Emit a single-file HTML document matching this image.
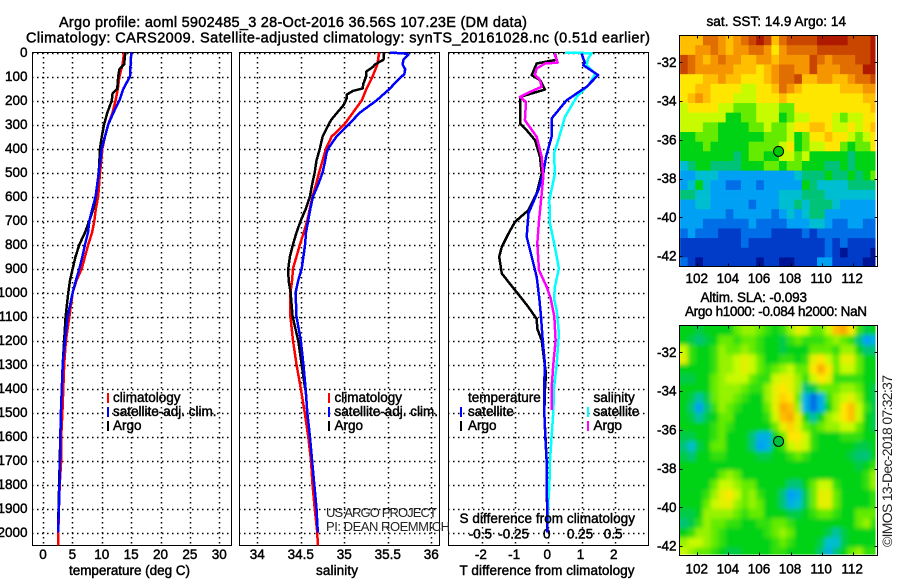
<!DOCTYPE html>
<html lang="en">
<head>
<meta charset="utf-8">
<title>Argo profile 5902485_3</title>
<style>
  html, body { margin: 0; padding: 0; background: #fff; }
  #chart { display: block; width: 900px; height: 580px; }
  text { font-family: "Liberation Sans", sans-serif; font-size: 13.5px; fill: #000; stroke: #000; stroke-width: 0.45px; }
  .title { font-size: 14.5px; }
  .thin { stroke: none; font-size: 13px; fill: #222; }
  .thin-large { stroke: none; font-size: 14px; fill: #222; }
</style>
</head>
<body>
<svg id="chart" xmlns="http://www.w3.org/2000/svg" width="900" height="580" viewBox="0 0 900 580">
  <defs>
    <clipPath id="sst-clip"><rect x="679.5" y="35.5" width="196" height="231"/></clipPath>
    <clipPath id="sla-clip"><rect x="679.5" y="325.5" width="196" height="229"/></clipPath>
    <filter id="smooth" x="0" y="0" width="100%" height="100%"><feGaussianBlur stdDeviation="2.2"/></filter>
  </defs>
  <rect width="900" height="580" fill="#fff"/>
  <text class="title" x="59" y="27" textLength="468" lengthAdjust="spacing">Argo profile: aoml 5902485_3 28-Oct-2016 36.56S 107.23E (DM data)</text>
  <text class="title" x="26" y="42.5" textLength="624" lengthAdjust="spacing">Climatology: CARS2009. Satellite-adjusted climatology: synTS_20161028.nc (0.51d earlier)</text>
  <g id="layer-panels"></g>
  <g id="layer-maps"></g>
  <text x="69" y="575" textLength="121" lengthAdjust="spacing">temperature (deg C)</text>
  <text x="316" y="575" textLength="42" lengthAdjust="spacing">salinity</text>
  <text x="459.5" y="575" textLength="175" lengthAdjust="spacing">T difference from climatology</text>
  <text x="459.5" y="523" textLength="175.5" lengthAdjust="spacing">S difference from climatology</text>
  <text class="thin" x="326" y="517" textLength="111" lengthAdjust="spacing">US ARGO PROJECT</text>
  <text class="thin" x="326" y="531" textLength="124" lengthAdjust="spacing">PI: DEAN ROEMMICH</text>
  <text x="706.5" y="26" textLength="139.5" lengthAdjust="spacing">sat. SST: 14.9 Argo: 14</text>
  <text x="700.5" y="302" textLength="106.5" lengthAdjust="spacing">Altim. SLA: -0.093</text>
  <text x="685" y="316" textLength="182" lengthAdjust="spacing">Argo h1000: -0.084 h2000: NaN</text>
  <text class="thin-large" transform="translate(892,547) rotate(-90)" textLength="172" lengthAdjust="spacing">©IMOS 13-Dec-2018 07:32:37</text>
</svg>

<script>
/* ---------- tick labels ---------- */
const depthTicks = [0,100,200,300,400,500,600,700,800,900,1000,1100,1200,1300,1400,1500,1600,1700,1800,1900,2000];
const tempTicks = [0,5,10,15,20,25,30];
const salTicks = [34,34.5,35,35.5,36];
const tDiffTicks = [-2,-1,0,1,2];
const sDiffTicks = [-0.5,-0.25,0,0.25,0.5];
const lonTicks = [102,104,106,108,110,112];
const latTicks = [-32,-34,-36,-38,-40,-42];
const floatLon = 107.23;
const floatLat = -36.56;

/* ---------- temperature profiles ---------- */
const tempClimDepth = [0,50,100,150,200,250,300,350,400,500,600,650,700,750,800,850,900,950,1000,1100,1200,1300,1400,1500,1600,1700,1800,1900,2000,2054];
const tempClim = [13.8,13.55,13,12.75,12.35,11.85,11.1,10.55,10.1,9.7,9.4,9,8.75,8.35,7.7,7.15,6.6,5.7,5.05,4.5,3.9,3.6,3.45,3.3,3.1,3.1,2.85,2.7,2.6,2.55];
const tempArgoDepth = [0,50,70,100,150,170,200,250,300,350,400,500,600,650,700,750,800,850,900,950,1000,1100,1200,1300,1500,2000];
const tempArgo = [14,13.8,13,12.8,12.65,11.85,11.7,10.95,10.4,10,9.7,9.5,9,8.6,7.9,7.15,6.2,5.55,5.05,4.6,4.3,3.85,3.6,3.35,3.05,2.55];
const tempSatDepth = [0,50,70,100,150,200,250,300,350,400,500,600,650,700,750,800,850,900,950,1000,1100,1200,1300,1400,1500,1600,1700,1800,1900,2000];
const tempSat = [15,14.9,14.85,14.8,13.7,13,12,11.1,10.55,10,9.5,8.95,8.4,7.9,7.65,7.15,6.7,6.2,5.6,5.05,4.2,3.75,3.35,3.2,3.05,2.95,2.9,2.8,2.7,2.55];

/* ---------- salinity profiles ---------- */
const salClimDepth = [0,50,100,150,200,250,300,350,400,450,500,550,600,650,700,750,800,850,900,950,1000,1100,1200,1300,1400,1500,1600,1700,1800,1900,2000,2054];
const salClim = [35.4,35.38,35.325,35.256,35.2,35.1,35,34.855,34.79,34.75,34.71,34.675,34.635,34.605,34.575,34.535,34.49,34.45,34.41,34.4,34.38,34.38,34.41,34.45,34.5,34.545,34.585,34.617,34.635,34.66,34.69,34.695];
const salArgoDepth = [0,30,50,60,80,100,130,150,160,175,190,220,250,280,300,350,400,450,500,550,600,650,700,750,800,850,900,950,1000,1100,1200,1300,1400];
const salArgo = [35.456,35.45,35.35,35.33,35.25,35.25,35.22,35.21,35.1,35.03,35.03,34.99,34.92,34.85,34.82,34.75,34.72,34.68,34.66,34.63,34.605,34.56,34.5,34.45,34.41,34.375,34.356,34.36,34.383,34.406,34.47,34.51,34.55];
const salSatDepth = [0,5,10,30,50,70,90,120,150,200,250,300,350,400,420,450,500,550,600,650,700,750,800,850,900,950,1000,1100,1200,1300,1400,1500,1600,1700,1800,1900,2000];
const salSat = [35.525,35.72,35.735,35.68,35.67,35.7,35.69,35.6,35.525,35.37,35.18,35.05,34.91,34.815,34.795,34.78,34.75,34.7,34.64,34.61,34.585,34.56,34.55,34.53,34.51,34.47,34.44,34.45,34.5,34.53,34.555,34.575,34.605,34.63,34.655,34.68,34.695];

/* ---------- difference profiles ---------- */
const dTArgoDepth = [4,30,46,94,115,154,185,240,296,324,365,435,504,588,657,705,754,810,851,921,963,1025,1061,1110,1151,1200,1276,1339,1400,1500,1700,2000];
const dTArgo = [0.2,0.25,-0.35,-0.5,-0.25,-0.1,-0.85,-0.85,-0.85,-0.65,-0.4,-0.25,-0.2,-0.35,-0.6,-1,-1.2,-1.4,-1.48,-1.4,-1.16,-0.8,-0.6,-0.35,-0.33,-0.2,-0.13,-0.07,-0.1,-0.12,-0.05,-0.03];
const dTSatDepth = [4,42,53,94,143,199,275,351,435,504,574,671,768,851,935,1025,1100,1200,1300,1400,1500,1600,1700,1800,1900,2000];
const dTSat = [1,1.1,1.05,1.5,1.15,0.55,0.1,0.1,-0.07,-0.15,-0.3,-0.6,-0.65,-0.5,-0.35,-0.27,-0.22,-0.17,-0.1,-0.13,-0.12,-0.09,-0.05,-0.05,-0.03,-0.03];
const dSArgoDepth = [4,42,46,67,94,115,143,164,185,206,282,351,435,518,588,700,796,907,976,1025,1100,1200,1300,1400,1490];
const dSArgo = [0.045,0.07,-0.025,-0.088,-0.1,-0.063,-0.05,-0.138,-0.214,-0.168,-0.176,-0.088,-0.05,-0.038,-0.05,-0.07,-0.083,-0.07,-0.013,0.018,0.045,0.055,0.038,0.025,0.025];
const dSSatDepth = [0,3,25,53,88,129,185,268,365,421,504,615,713,810,900,976,1025,1075,1170,1300,1400,1500,1600,1700,1800,1900,2000];
const dSSat = [0.126,0.327,0.3,0.289,0.352,0.314,0.214,0.126,0.075,0.043,0.05,0.008,0.013,0.05,0.08,0.05,0.043,0.063,0.08,0.063,0.043,0.038,0.025,0.013,0.008,-0.003,-0.008];

/* ---------- map grids (colour-scale levels, 0 = coldest/lowest) ---------- */
const sstLevels = [
[10,10,10,12,12,11,10,11,12,13,14,13,10,12,13,13,13,13,14,14,14,14,13,13,13,14],
[10,10,11,11,12,11,10,11,11,12,12,11,9,11,12,12,12,12,13,13,13,13,13,13,13,14],
[13,12,11,10,11,12,11,11,10,10,11,11,10,11,11,11,11,13,12,11,12,12,12,13,13,14],
[13,12,11,11,11,11,11,10,10,10,9,10,11,12,12,11,11,13,11,11,11,12,12,12,14,14],
[9,9,9,10,10,11,10,10,9,9,9,10,11,12,12,13,10,10,11,11,10,10,11,12,12,13],
[9,9,10,10,9,9,9,9,8,8,9,9,10,12,11,10,9,9,9,9,9,10,10,10,11,11],
[9,10,11,10,9,9,9,8,8,8,9,9,9,10,9,9,9,9,9,9,9,9,9,9,10,10],
[8,9,9,9,9,8,8,7,7,7,8,8,8,7,7,9,9,9,9,9,9,9,9,9,9,10],
[8,8,8,8,8,8,6,6,7,7,8,8,8,6,7,8,8,9,9,9,8,7,8,8,9,9],
[8,8,8,7,7,6,6,6,6,7,7,8,7,7,8,9,9,10,10,9,8,8,9,8,9,10],
[6,6,7,7,7,6,6,6,6,6,6,7,7,7,8,6,7,9,9,10,9,9,8,7,8,9],
[6,6,6,7,6,6,6,6,6,7,7,7,7,8,9,6,7,8,8,9,9,7,6,7,7,9],
[6,6,6,6,6,6,6,5,6,7,7,6,6,8,8,7,8,6,6,6,6,6,5,6,6,6],
[4,5,6,6,5,5,5,5,6,6,6,7,7,6,7,7,6,6,6,5,5,6,5,6,6,6],
[3,3,4,4,4,3,3,3,3,3,3,3,3,3,3,4,5,5,5,6,5,5,6,5,6,7],
[3,4,6,4,3,3,2,2,3,3,2,3,3,3,3,3,6,5,4,4,4,4,5,5,5,5],
[5,5,4,4,3,3,3,3,3,3,3,3,3,4,4,4,5,5,5,4,4,4,4,4,4,4],
[3,3,4,4,3,3,3,3,3,2,3,3,3,4,4,5,4,5,5,5,4,3,3,3,3,3],
[3,3,3,3,3,3,2,3,3,3,3,3,2,3,4,3,4,5,5,3,3,3,3,3,3,3],
[3,3,3,2,2,2,2,2,2,3,2,2,2,2,3,3,3,4,4,3,2,2,3,3,2,2],
[2,3,2,2,2,1,1,1,2,2,2,2,1,1,1,1,2,1,2,2,2,2,2,2,2,2],
[1,1,1,1,1,1,1,1,2,1,1,1,1,1,1,1,1,1,1,2,1,2,1,1,1,1],
[1,1,1,1,1,1,1,1,1,1,1,1,1,1,1,1,1,1,1,2,1,0,1,1,1,0],
[2,1,0,1,1,1,1,1,1,1,0,1,1,0,0,1,1,1,3,3,1,1,1,1,0,0]
];
const slaLevels = [
[6,6,5.5,6,6,6,6,7,7.5,7.5,7,6.5,6,6.5,7.5,8.5,8,7,7,8,10,10.5,9,6.5,5.5,6],
[6,5.5,5,5.5,6,7,7,6.5,7,7,6.5,6,6,5.5,6.5,7,6.5,6.5,6.5,7,7.5,7,6.5,5,3,3.5],
[8,6.5,6,6,6.5,7.5,7,7,7.5,7,6.5,6,6,5.5,6,6,6,7,7,7,6.5,7.5,7.5,6,5,5],
[8.5,6.5,6,6,6.5,7.5,7.5,8,8.5,8,7,6,6,6.5,6.5,6,6.5,8.5,9,8,7,8.5,8.5,7,6,6],
[6,6,6,6,6.5,7.5,7.5,8,8.5,8,7,6.5,7,7.5,8,7,7,9,10.5,9,7,8,8,7,6,6],
[5.5,5.5,6,6,7,7.5,8,8,8,7,6.5,6.5,8,8.5,8.5,7.5,6.5,8,9,8.5,6.5,6.5,6.5,6.5,6,6],
[6,6,6,6,7,7.5,7.5,7.5,7,6.5,6.5,7.5,8.5,9,8.5,7.5,5,5.5,7,7,7,7.5,7.5,7,6,5.5],
[6,5.5,4.5,5.5,7,7.5,7.5,7,6.5,6,6,7.5,8.5,9.5,9,7,3.5,2,3.5,6.5,7.5,8,8.5,7.5,6,5.5],
[6,5,3,5,6.5,7.5,7,6.5,6,6,6,7,8.5,10.5,10,7.5,3.5,2,3.5,6,7.5,9,10,8,6.5,5.5],
[6,5.5,4.5,5.5,6,7,7,6,6,6,6,6.5,8,10,10.5,8.5,6,4.5,6,7.5,8,9,10,8,6,5.5],
[6,6,6,6,6.5,7,6.5,6,6,6,6,6,7,8.5,9.5,8.5,7,6.5,7,7.5,7.5,8,8,7,6,5.5],
[5.5,5.5,6,6,6.5,7,6,6,6,5,3.5,3.5,6,7,9,9,8,6.5,6,6,6,6.5,6.5,6.5,6,6],
[5,4,5.5,6,7,7,6,6,6,5,3,3.5,6,6.5,8,8.5,8,6.5,6,6,6,6,6,5.5,5.5,6],
[5.5,5,6,6,6.5,6.5,6,6,6,6,5.5,5.5,6,6,6.5,7,6.5,6,6,6,6,6,5.5,5,5,6],
[6,6,6,6,6,6,6,6,6,6,6,6,6,6,6,6,6,6,6,6,6,6,6,5.5,6,6.5],
[6,6,6,6,6,7,7.5,7,6,6,6,6,6,6,6,6,6,6,6,6,6,6,6,6,6.5,7.5],
[6,6,6,6,7,8,8,7.5,7,7,6,6,6,6,5,5,6,7,8,8,6.5,6,6,6,6.5,7.5],
[6,6,6,6.5,7.5,8.5,9,8,7,7.5,6.5,6,6,5,3,3.5,5.5,7,8.5,8.5,7,6,6,6,6,6.5],
[6,6,6,7,8,8.5,8.5,7.5,7,7.5,7,6,6,5,3.5,4,5.5,7,8.5,8.5,7,6,6,6,6,6.5],
[5.5,5.5,6,7.5,7.5,7.5,7.5,7,6.5,7,7,6,6,6,5.5,5.5,6,6.5,7,7,6.5,6,6,7,7,7],
[5,5.5,6.5,7.5,7,7,6.5,6.5,6,6,6.5,6.5,7,7,6.5,6,6,6,6,6,6,6,6,7,7.5,6.5],
[6,6.5,7.5,7.5,7,6.5,6,6,6,6,6,6.5,7,7.5,7,6,6,6,6,5.5,4.5,5.5,6,6,6,6],
[7.5,8,8,7.5,7,6.5,6,6,6,6,6,6,6.5,7,6.5,6,6,6,5.5,4,4,5.5,6,6,6,6],
[8,7.5,7,7,6.5,6,5.5,5.5,6,6,6,6,6.5,6.5,6,6,6,6,5,3.5,5,6,7,7.5,6.5,6.5]
];

/* ---------- colour scale and layout ---------- */
const colorRamp = [[0,20,150],[0,60,200],[0,110,230],[0,160,245],[0,190,210],[0,195,120],[0,210,20],[100,235,0],[200,250,0],[255,230,0],[255,190,0],[245,150,0],[225,110,0],[200,70,0],[175,25,0]];
const mapLonStart = 100.89, mapLonStep = 0.49, mapLatStart = -30.62, mapLatStep = 0.498;

const yDepth = d => 52.5 + 0.24 * d;
const xTemp = v => 43 + 5.877 * v;
const xSal = v => 257.3 + 87 * (v - 34);
const xTDiff = v => 548.3 + 33.2 * v;
const xSDiff = v => xTDiff(4 * v);
const xLon = v => 697.3 + 15.54 * (v - 102);
const ySstLat = v => 62.3 + 19.37 * (-32 - v);
const ySlaLat = v => 352.3 + 19.37 * (-32 - v);

const NS = 'http://www.w3.org/2000/svg';
const panelsLayer = document.getElementById('layer-panels');
const mapsLayer = document.getElementById('layer-maps');

function make(tag, parent, attrs) {
  const el = document.createElementNS(NS, tag);
  for (const k in attrs) el.setAttribute(k, attrs[k]);
  parent.appendChild(el);
  return el;
}
function rampColor(level) {
  const t = Math.max(0, Math.min(colorRamp.length - 1, level));
  const i = Math.min(colorRamp.length - 2, Math.floor(t));
  const f = t - i;
  const c = [0, 1, 2].map(n => Math.round(colorRamp[i][n] + (colorRamp[i + 1][n] - colorRamp[i][n]) * f));
  return 'rgb(' + c.join(',') + ')';
}

/* ---------- profile panels ---------- */
function drawPanel(name, left, right, xTicks, xFn) {
  const top = 52.5, bottom = 545.5;
  const g = make('g', panelsLayer, {});
  
  
  depthTicks.forEach(d => {
    const y = Math.round(yDepth(d)) + 0.5;
    const line = make('line', g, { x1: Math.floor(left), x2: Math.ceil(right), y1: y, y2: y, stroke: '#000', 'stroke-width': 1.5, 'stroke-dasharray': '1.5 3.5' });
    
    
  });
  xTicks.forEach(v => {
    const x = Math.round(xFn(v)) + 0.5;
    const line = make('line', g, { x1: x, x2: x, y1: 52, y2: 546, stroke: '#000', 'stroke-width': 1.5, 'stroke-dasharray': '1.5 3.5' });
    
    
    const label = make('text', g, { x: xFn(v) - (name === 'difference-panel' ? 1 : 0), y: 559, 'text-anchor': 'middle' });
    label.textContent = v;
    
    
  });
  const box = make('rect', g, { x: left, y: top, width: right - left, height: bottom - top, fill: 'none', stroke: '#000', 'stroke-width': 1, 'shape-rendering': 'crispEdges' });
  
  
}
function drawLine(name, depths, values, xFn, color, width) {
  const pts = depths.map((d, i) => xFn(values[i]).toFixed(1) + ',' + yDepth(d).toFixed(1)).join(' ');
  const line = make('polyline', panelsLayer, { points: pts, fill: 'none', stroke: color, 'stroke-width': width, 'stroke-linejoin': 'round', 'shape-rendering': 'crispEdges' });
  
  
}
function drawLegendRow(barX, textX, y, color, str) {
  if (color) {
    const bar = make('rect', panelsLayer, { x: barX, y: y - 5, width: 2, height: 10, fill: color });
    
    
  }
  const t = make('text', panelsLayer, { x: textX, y: y + 4 });
  t.textContent = str;
  
  
}

drawPanel('temperature-panel', 32.5, 231.5, tempTicks, xTemp);
drawPanel('salinity-panel', 239.5, 439.5, salTicks, xSal);
drawPanel('difference-panel', 448.5, 648.5, tDiffTicks, xTDiff);

depthTicks.forEach(d => {
  const t = make('text', panelsLayer, { x: 27.5, y: yDepth(d) + 4.5, 'text-anchor': 'end' });
  t.textContent = d;
  
  
});
sDiffTicks.forEach(v => {
  const t = make('text', panelsLayer, { x: xSDiff(v) - 1.5, y: 538.5, 'text-anchor': 'middle' });
  t.textContent = v;
  
  
});

drawLine('temperature-climatology-line', tempClimDepth, tempClim, xTemp, '#f00', 2.5);
drawLine('temperature-argo-line', tempArgoDepth, tempArgo, xTemp, '#000', 2.5);
drawLine('temperature-satellite-line', tempSatDepth, tempSat, xTemp, '#00f', 2.5);
drawLine('salinity-climatology-line', salClimDepth, salClim, xSal, '#f00', 2.5);
drawLine('salinity-argo-line', salArgoDepth, salArgo, xSal, '#000', 2.5);
drawLine('salinity-satellite-line', salSatDepth, salSat, xSal, '#00f', 2.5);
drawLine('t-difference-argo-line', dTArgoDepth, dTArgo, xTDiff, '#000', 2.5);
drawLine('s-difference-satellite-line', dSSatDepth, dSSat, xSDiff, '#0ff', 2.5);
drawLine('t-difference-satellite-line', dTSatDepth, dTSat, xTDiff, '#00f', 2.5);
drawLine('s-difference-argo-line', dSArgoDepth, dSArgo, xSDiff, '#f0f', 2.5);

drawLegendRow(107, 113, 398, '#f00', 'climatology');
drawLegendRow(107, 113, 412, '#00f', 'satellite-adj. clim.');
drawLegendRow(107, 113, 426, '#000', 'Argo');
drawLegendRow(328, 334.5, 398, '#f00', 'climatology');
drawLegendRow(328, 334.5, 412, '#00f', 'satellite-adj. clim.');
drawLegendRow(328, 334.5, 426, '#000', 'Argo');
drawLegendRow(460, 468, 398, null, 'temperature');
drawLegendRow(460, 468, 412, '#00f', 'satellite');
drawLegendRow(460, 468, 426, '#000', 'Argo');
drawLegendRow(587, 593.5, 398, null, 'salinity');
drawLegendRow(587, 593.5, 412, '#0ff', 'satellite');
drawLegendRow(587, 593.5, 426, '#f0f', 'Argo');

/* ---------- maps ---------- */
function drawMap(name, levels, clipId, yLat, top, bottom, labelY, smooth) {
  const left = 679.5, right = 877.5;
  const frame = make('g', mapsLayer, { 'clip-path': 'url(#' + clipId + ')' });
  
  
  const cells = make('g', frame, smooth ? { filter: 'url(#smooth)' } : {});
  
  
  const nRows = levels.length, nCols = levels[0].length;
  const first = smooth ? -2 : 0;
  for (let r = first; r < nRows - first; r++) {
    for (let c = first; c < nCols - first; c++) {
      const lv = levels[Math.max(0, Math.min(nRows - 1, r))][Math.max(0, Math.min(nCols - 1, c))];
      const x0 = xLon(mapLonStart + c * mapLonStep), x1 = xLon(mapLonStart + (c + 1) * mapLonStep);
      const y0 = yLat(mapLatStart - r * mapLatStep), y1 = yLat(mapLatStart - (r + 1) * mapLatStep);
      const cell = make('rect', cells, { x: x0.toFixed(1), y: y0.toFixed(1), width: (x1 - x0 + 0.4).toFixed(1), height: (y1 - y0 + 0.4).toFixed(1), fill: rampColor(lv) });
      
      
    }
  }
  const box = make('rect', mapsLayer, { x: left, y: top, width: right - left, height: bottom - top, fill: 'none', stroke: '#000', 'stroke-width': 1, 'shape-rendering': 'crispEdges' });
  
  
  lonTicks.forEach(v => {
    const x = Math.round(xLon(v)) + 0.5;
    [[top, top + 3], [bottom - 3, bottom]].forEach(seg => {
      const tick = make('line', mapsLayer, { x1: x, x2: x, y1: seg[0], y2: seg[1], stroke: '#000', 'shape-rendering': 'crispEdges' });
      
      
    });
    const t = make('text', mapsLayer, { x: xLon(v) - 0.5, y: labelY, 'text-anchor': 'middle' });
    t.textContent = v;
    
    
  });
  latTicks.forEach(v => {
    const y = Math.round(yLat(v)) + 0.5;
    [[left, left + 3], [right - 3, right]].forEach(seg => {
      const tick = make('line', mapsLayer, { x1: seg[0], x2: seg[1], y1: y, y2: y, stroke: '#000', 'shape-rendering': 'crispEdges' });
      
      
    });
    const t = make('text', mapsLayer, { x: 676.5, y: yLat(v) + 4.5, 'text-anchor': 'end' });
    t.textContent = v;
    
    
  });
  const marker = make('circle', mapsLayer, { cx: xLon(floatLon), cy: yLat(floatLat) + 0.7, r: 5, fill: smooth ? '#00c040' : '#00c800', stroke: '#000', 'stroke-width': 1 });
  
  
}
drawMap('sst-map', sstLevels, 'sst-clip', ySstLat, 35.5, 266.5, 283, false);
drawMap('sla-map', slaLevels, 'sla-clip', ySlaLat, 325.5, 555.5, 573.5, true);
</script>
</body>
</html>
